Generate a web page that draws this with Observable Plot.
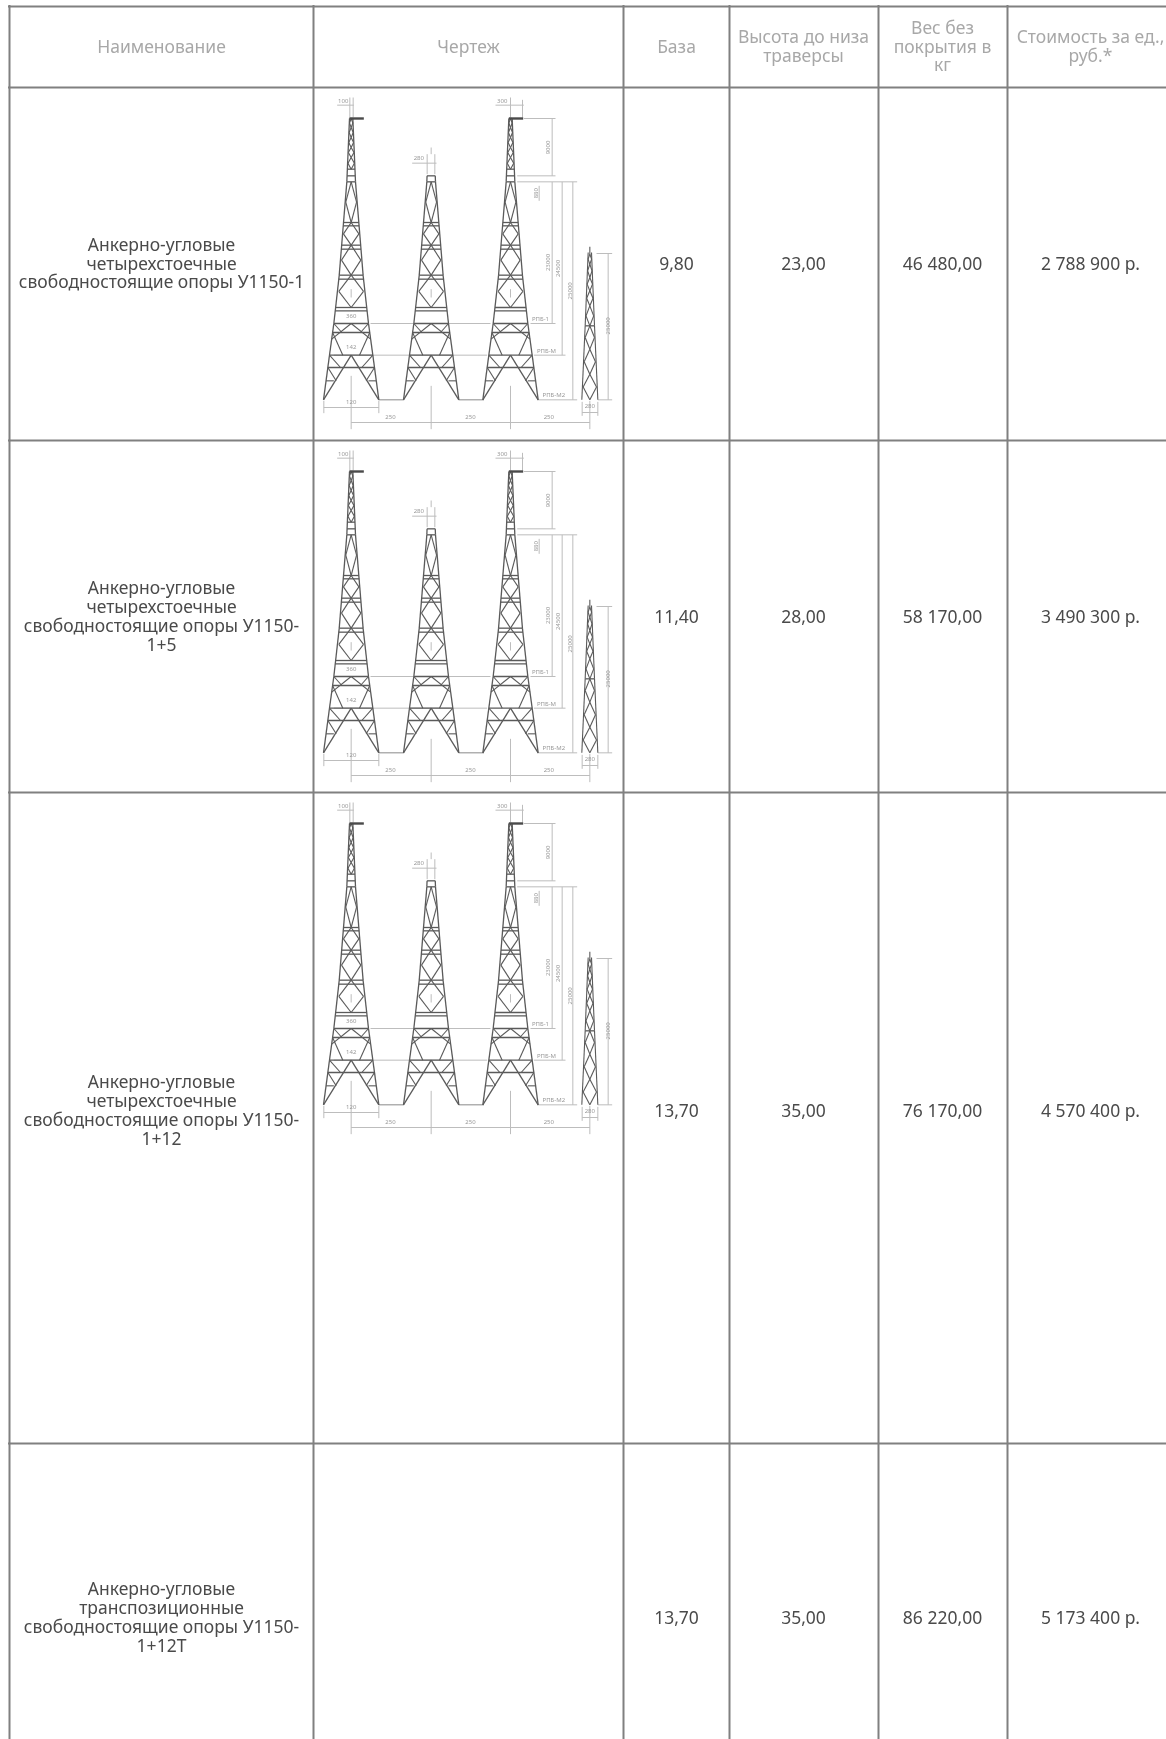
<!DOCTYPE html>
<html lang="ru"><head><meta charset="utf-8">
<style>html,body{margin:0;padding:0;background:#fff;overflow:hidden}svg{display:block}</style>
<script src="https://cdn.jsdelivr.net/npm/d3@7"></script>
<script src="https://cdn.jsdelivr.net/npm/@observablehq/plot@0.6"></script>
</head><body><div id="chart"></div>
<script>
// ---- table content ----
const headers = ["Наименование","Чертеж","База","Высота до низа\nтраверсы","Вес без\nпокрытия в\nкг","Стоимость за ед.,\nруб.*"];
const names = ["Анкерно-угловые\nчетырехстоечные\nсвободностоящие опоры У1150-1",
  "Анкерно-угловые\nчетырехстоечные\nсвободностоящие опоры У1150-\n1+5",
  "Анкерно-угловые\nчетырехстоечные\nсвободностоящие опоры У1150-\n1+12",
  "Анкерно-угловые\nтранспозиционные\nсвободностоящие опоры У1150-\n1+12Т"];
const bases = ["9,80","11,40","13,70","13,70"];
const heights = ["23,00","28,00","35,00","35,00"];
const weights = ["46 480,00","58 170,00","76 170,00","86 220,00"];
const prices = ["2 788 900 р.","3 490 300 р.","4 570 400 р.","5 173 400 р."];
// ---- table grid ----
const columnRules = [9,313,623,729,878,1007];
const rowRules = [6,87,440,792,1443];
const columnCenters = [161,468,676,803,942,1090];
const headerCenter = 46;
const rowCenters = [263,616,1110,1617];
const drawingRows = [87,440,792];
// ---- tower drawing, in drawing units ----
const legProfile = [[98,5],[288,13],[570,36],[713,52],[808,65],[942,83]];
const mastLevels = [98,125,155,185,215,250];
const bodyDiamonds = [288,410,478,568,665];
const bodyChords = [410,420,478,490,568,580,665,675,713,740,808,845];
const mastChords = [98,250,270,288];
const towerCenters = [122,362,600];
const smallCenter = 838;
const smallProfile = [[500,5],[720,14],[942,24]];
const smallDiamonds = [505,535,575,615,660,720,790,865,942];
const dimLines = [
 [80,58,130,58],[118,35,118,95],[128,35,128,95],
 [555,58,640,58],[600,35,600,95],[636,42,636,95],
 [305,232,378,232],[350,205,350,265],[373,205,373,265],[362,185,362,205],
 [640,98,735,98],[620,270,735,270],[620,288,800,288],[725,98,725,270],[725,288,725,712],
 [755,288,755,808],[787,288,787,942],[686,300,686,345],
 [180,713,540,713],[660,713,735,713],[70,808,530,808],[670,808,765,808],[680,942,800,942],
 [40,965,205,965],[40,945,40,982],[205,945,205,982],
 [122,1010,838,1010],[122,870,122,1030],[362,900,362,1030],[600,900,600,1030],[838,945,838,1030],
 [815,980,862,980],[815,948,815,990],[862,948,862,990],
 [858,503,905,503],[862,942,905,942],[893,503,893,942],
 [122,610,122,635],[362,610,362,635],[600,610,600,635]
];
const footLines = [[205,942,280,942],[445,942,520,942]];
const dimLabels = [["100",98,45,0],["300",575,45,0],["280",325,218,0],["9000",712,185,-90],["880",678,322,-90],
 ["23000",712,530,-90],["24500",742,548,-90],["25000",780,615,-90],["25000",893,720,-90],
 ["РПБ-1",690,700,0],["РПБ-М",708,795,0],["РПБ-М2",730,928,0],["360",122,690,0],["142",122,785,0],["120",122,950,0],
 ["250",240,993,0],["250",480,993,0],["250",715,993,0],["280",838,962,0]];

function half(profile, y){
  for(let i=1;i<profile.length;i++){
    if(y<=profile[i][0]){const [a,b]=profile[i-1],[c,d]=profile[i];return b+(d-b)*(y-a)/(c-a);}
  }
  return profile[profile.length-1][1];
}
const toX = u => 310 + u/3;
const toY = (v,top) => top + (v-5)/3;
const thin=[], chords=[], heavy=[], dims=[], foots=[], labels=[];
function seg(list,top,x1,y1,x2,y2){list.push({x1:toX(x1),y1:toY(y1,top),x2:toX(x2),y2:toY(y2,top)});}
function diamond(list,top,c,profile,y1,y2){
  const ym=(y1+y2)/2,h=half(profile,ym)*0.9;
  seg(list,top,c,y1,c-h,ym);seg(list,top,c-h,ym,c,y2);seg(list,top,c,y2,c+h,ym);seg(list,top,c+h,ym,c,y1);
}
for(const top of drawingRows){
  towerCenters.forEach((c,t)=>{
    const start = t===1 ? 270 : 98;
    for(const s of [-1,1]){
      for(let i=1;i<legProfile.length;i++){
        const [a,,]=legProfile[i-1],[e,d]=legProfile[i];
        if(e<=start) continue;
        const ya=Math.max(a,start),wa=half(legProfile,ya);
        seg(chords,top,c+s*wa,ya,c+s*d,e);
      }
      // lower frame
      seg(chords,top,c,808,c+s*83,942);
      seg(thin,top,c,713,c+s*half(legProfile,760),760);
      seg(thin,top,c+s*half(legProfile,740),740,c+s*25,808);
      seg(thin,top,c+s*half(legProfile,713),713,c+s*28,740);
      seg(thin,top,c+s*half(legProfile,808),808,c+s*32,845);
      seg(thin,top,c+s*half(legProfile,845),845,c+s*45,885);
      seg(thin,top,c+s*half(legProfile,885),885,c+s*52,885);
    }
    bodyChords.forEach(v=>{const h=half(legProfile,v);seg(chords,top,c-h,v,c+h,v);});
    for(let i=1;i<bodyDiamonds.length;i++) diamond(thin,top,c,legProfile,bodyDiamonds[i-1],bodyDiamonds[i]);
    if(t!==1){
      for(let i=1;i<mastLevels.length;i++) diamond(thin,top,c,legProfile,mastLevels[i-1],mastLevels[i]);
      mastChords.forEach(v=>{const h=half(legProfile,v);seg(chords,top,c-h,v,c+h,v);});
      seg(heavy,top,c-5,98,c+38,98);
    } else {
      [270,288].forEach(v=>{const h=half(legProfile,v);seg(chords,top,c-h,v,c+h,v);});
    }
  });
  for(const s of [-1,1]){
    seg(thin,top,smallCenter+s*5,500,smallCenter+s*14,720);
    seg(thin,top,smallCenter+s*14,720,smallCenter+s*24,942);
  }
  seg(thin,top,smallCenter,483,smallCenter,505);
  for(let i=1;i<smallDiamonds.length;i++) diamond(thin,top,smallCenter,smallProfile,smallDiamonds[i-1],smallDiamonds[i]);
  seg(chords,top,smallCenter-14,720,smallCenter+14,720);
  dimLines.forEach(d=>seg(dims,top,...d));
  footLines.forEach(d=>seg(foots,top,...d));
  dimLabels.forEach(([t,x,y,r])=>labels.push({t,x:toX(x),y:toY(y,top),r}));
}
const headerCells = headers.map((t,i)=>({t,x:columnCenters[i],y:headerCenter}));
const bodyCells = [];
rowCenters.forEach((y,r)=>{
  [names[r],null,bases[r],heights[r],weights[r],prices[r]].forEach((t,c)=>{
    if(t) bodyCells.push({t,x:columnCenters[c],y});
  });
});
const link = (data,stroke,strokeWidth,blur) => Plot.link(data,{x1:"x1",y1:"y1",x2:"x2",y2:"y2",stroke:()=>stroke,strokeWidth,imageFilter:`blur(${blur}px)`});
const font = "'Noto Sans', Tahoma, sans-serif";
const plot = Plot.plot({
  width:1166,height:1739,margin:0,
  style:{background:"#fff",fontFamily:font},
  x:{type:"identity",axis:null},y:{type:"identity",axis:null},
  color:{type:"identity"},
  marks:[
    link(dims,"#bdbdbd",1,0.5),
    link(foots,"#8a8a8a",1,0.5),
    link(thin,"#5a5a5a",1.1,0.5),
    link(chords,"#5a5a5a",1.3,0.5),
    link(heavy,"#4a4a4a",2.4,0.4),
    Plot.text(labels,{x:"x",y:"y",text:"t",rotate:"r",fontSize:6,fill:()=>"#999",imageFilter:"blur(0.5px)"}),
    Plot.ruleX(columnRules,{x:d=>d,y1:rowRules[0]-1,y2:1739,stroke:()=>"#808080",strokeWidth:2}),
    Plot.ruleY(rowRules,{y:d=>d,x1:columnRules[0]-1,x2:1166,stroke:()=>"#808080",strokeWidth:2}),
    Plot.text(headerCells,{x:"x",y:"y",text:"t",fontSize:17.5,lineHeight:1.08,fill:()=>"#a8a8a8",imageFilter:"blur(0.3px)"}),
    Plot.text(bodyCells,{x:"x",y:"y",text:"t",fontSize:17.5,lineHeight:1.08,fill:()=>"#4a4a4a",imageFilter:"blur(0.3px)"})
  ]
});
document.getElementById("chart").append(plot);
</script></body></html>
